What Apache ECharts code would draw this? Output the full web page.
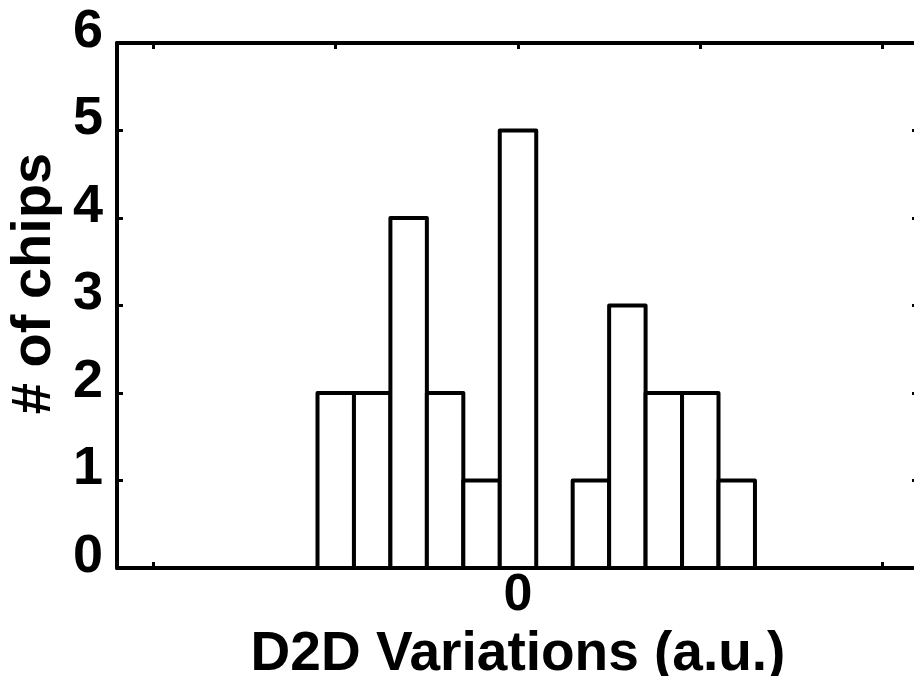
<!DOCTYPE html>
<html>
<head>
<meta charset="utf-8">
<script src="https://cdn.jsdelivr.net/npm/echarts@6/dist/echarts.min.js"></script>
<style>
html,body{margin:0;padding:0;background:#fff;}
#chart{width:914px;height:676px;}
</style>
</head>
<body>
<div id="chart"></div>
<script>
// Histogram data
var binCenters = [-1.0, -0.8, -0.6, -0.4, -0.2, 0.0, 0.2, 0.4, 0.6, 0.8, 1.0, 1.2];
var counts     = [2, 2, 4, 2, 1, 5, 0, 1, 3, 2, 2, 1];
var binWidth = 0.2;
var xTickValues = [-2, -1, 0, 1, 2];
var xLabelValues = [0];
var yTicks = [0, 1, 2, 3, 4, 5, 6];
var xName = 'D2D Variations (a.u.)';
var yName = '# of chips';

var FONT = '"Liberation Sans", Arial, Helvetica, sans-serif';
var seriesData = binCenters.map(function (c, i) { return [c - binWidth / 2, c + binWidth / 2, counts[i]]; });

var chart = echarts.init(document.getElementById('chart'), null, {renderer: 'canvas'});
var lineStyle = {color: '#000', width: 4};
var tickStyle = {color: '#000', width: 3};

chart.setOption({
  backgroundColor: '#fff',
  animation: false,
  grid: {left: 117, top: 43, width: 802, bottom: 108, containLabel: false, outerBoundsMode: 'none'},
  xAxis: [{
    type: 'value', min: -2.2, max: 2.2, position: 'bottom',
    name: xName, nameLocation: 'middle', nameGap: 49,
    nameTextStyle: {fontFamily: FONT, fontWeight: 'bold', fontSize: 55, color: '#000'},
    axisLine: {show: true, onZero: false, lineStyle: lineStyle},
    axisTick: {show: true, inside: true, length: 6, lineStyle: tickStyle, customValues: xTickValues},
    axisLabel: {show: true, customValues: xLabelValues, margin: 2, fontFamily: FONT, fontWeight: 'bold', fontSize: 52, color: '#000'},
    splitLine: {show: false}
  }, {
    type: 'value', min: -2.2, max: 2.2, position: 'top',
    axisLine: {show: true, onZero: false, lineStyle: lineStyle},
    axisTick: {show: true, inside: true, length: 6, lineStyle: tickStyle, customValues: xTickValues},
    axisLabel: {show: false},
    splitLine: {show: false}
  }],
  yAxis: [{
    type: 'value', min: 0, max: 6, interval: 1, position: 'left',
    name: yName, nameLocation: 'middle', nameGap: 52,
    nameTextStyle: {fontFamily: FONT, fontWeight: 'bold', fontSize: 56, color: '#000', padding: [0, 0, 0, 44]},
    axisLine: {show: true, onZero: false, lineStyle: lineStyle},
    axisTick: {show: true, inside: true, length: 6, lineStyle: tickStyle},
    axisLabel: {show: true, margin: 14, verticalAlign: 'bottom', lineHeight: 22, fontFamily: FONT, fontWeight: 'bold', fontSize: 54, color: '#000',
      customValues: yTicks},
    splitLine: {show: false}
  }, {
    type: 'value', min: 0, max: 6, interval: 1, position: 'right',
    axisLine: {show: true, onZero: false, lineStyle: lineStyle},
    axisTick: {show: true, inside: true, length: 7, lineStyle: tickStyle},
    axisLabel: {show: false},
    splitLine: {show: false}
  }],
  series: [{
    type: 'custom',
    xAxisIndex: 0, yAxisIndex: 0,
    data: seriesData,
    clip: false,
    renderItem: function (params, api) {
      var h = api.value(2);
      if (!h) return null;
      var p0 = api.coord([api.value(0), 0]);
      var p1 = api.coord([api.value(1), h]);
      return {
        type: 'rect',
        shape: {x: p0[0], y: p1[1], width: p1[0] - p0[0], height: p0[1] - p1[1]},
        style: {fill: '#fff', stroke: '#000', lineWidth: 4, lineJoin: 'round'}
      };
    }
  }]
});
</script>
</body>
</html>
